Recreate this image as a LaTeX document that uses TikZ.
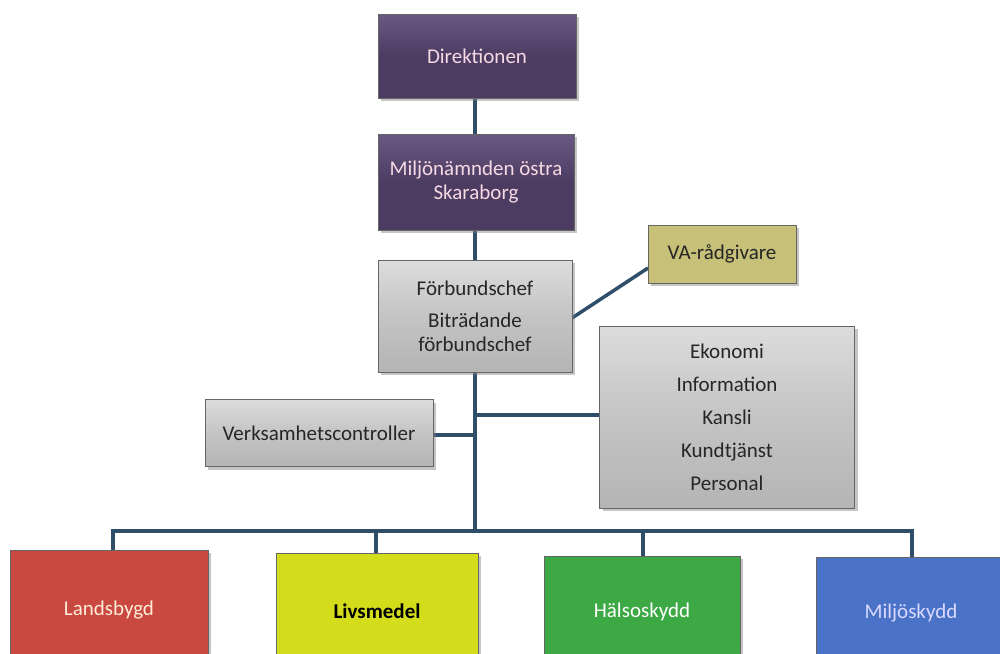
\documentclass[tikz,border=0pt]{standalone}
\usepackage{fontspec}
\setmainfont{Carlito}
\usetikzlibrary{shadows}
\definecolor{linec}{HTML}{2E4E6A}
\definecolor{purp}{HTML}{4C3C62}
\definecolor{purpl}{HTML}{6A5882}
\definecolor{grayb}{HTML}{C4C4C4}
\definecolor{grayl}{HTML}{DCDCDC}
\definecolor{olive}{HTML}{C6C078}
\definecolor{redb}{HTML}{C9483F}
\definecolor{yelb}{HTML}{D3DD1C}
\definecolor{greenb}{HTML}{3CA945}
\definecolor{blueb}{HTML}{4A73C8}
\tikzset{
  box/.style={rectangle, draw=black!60, line width=0.6pt, drop shadow={shadow xshift=3pt, shadow yshift=-3pt, opacity=0.45}, align=center, inner sep=4pt, font=\fontsize{21}{24}\selectfont},
  purpbox/.style={box, top color=purpl, bottom color=purp, middle color=purp, text=white!85!purple},
  graybox/.style={box, top color=grayl, bottom color=grayb!92!black, middle color=grayb, text=black!85},
  conn/.style={draw=linec, line width=3.5pt},
}
\begin{document}
\begin{tikzpicture}[x=1pt,y=-1pt]
\useasboundingbox (0,0) rectangle (1000,653);
\clip (0,0) rectangle (1000,653);
\fill[white] (0,0) rectangle (1000,653);
% coordinates
\coordinate (top) at (475,98);
\coordinate (bus) at (475,531);
\coordinate (jc) at (475,435);
\coordinate (js) at (475,415);
\coordinate (bl) at (113,531);
\coordinate (b2) at (376,531);
\coordinate (b3) at (643,531);
\coordinate (br) at (912,531);
\coordinate (vaA) at (572,318);
\coordinate (vaB) at (648,268);
% connectors
\draw[conn] (top) -- (bus);
\draw[conn] (vaA) -- (vaB);
\draw[conn] (js) -- (600,415);
\draw[conn] (433,435) -- (jc);
\draw[conn, line cap=rect] (bl) -- (br);
\draw[conn] (bl) -- ++(0,22);
\draw[conn] (b2) -- ++(0,24);
\draw[conn] (b3) -- ++(0,27);
\draw[conn] (br) -- ++(0,28);
% nodes
\node[purpbox, minimum width=198pt, minimum height=84pt] (dir) at (477,56) {Direktionen};
\node[purpbox, minimum width=196pt, minimum height=96pt] (nam) at (476,182) {Miljönämnden östra\\Skaraborg};
\node[graybox, minimum width=194pt, minimum height=112pt] (chef) at (475,316) {Förbundschef\\[8pt]Biträdande\\förbundschef};
\node[box, fill=olive, text=black!85, minimum width=148pt, minimum height=58pt] (va) at (722,254) {VA-rådgivare};
\node[graybox, minimum width=255pt, minimum height=182pt, font=\fontsize{21}{33}\selectfont] (stab) at (727,417) {Ekonomi\\Information\\Kansli\\Kundtjänst\\Personal};
\node[graybox, minimum width=228pt, minimum height=67pt] (ctrl) at (319,433) {Verksamhetscontroller};
\node[box, fill=redb, text=white!85!orange, minimum width=198pt, minimum height=120pt] (land) at (109,610) {Landsbygd};
\node[box, fill=yelb, text=black, minimum width=202pt, minimum height=116pt, font=\fontsize{21}{24}\selectfont\bfseries] (livs) at (377,611) {Livsmedel};
\node[box, fill=greenb, text=white, minimum width=196pt, minimum height=112pt] (hals) at (642,612) {Hälsoskydd};
\node[box, fill=blueb, text=white!85!blue, minimum width=190pt, minimum height=112pt] (milj) at (911,613) {Miljöskydd};
\end{tikzpicture}
\end{document}
